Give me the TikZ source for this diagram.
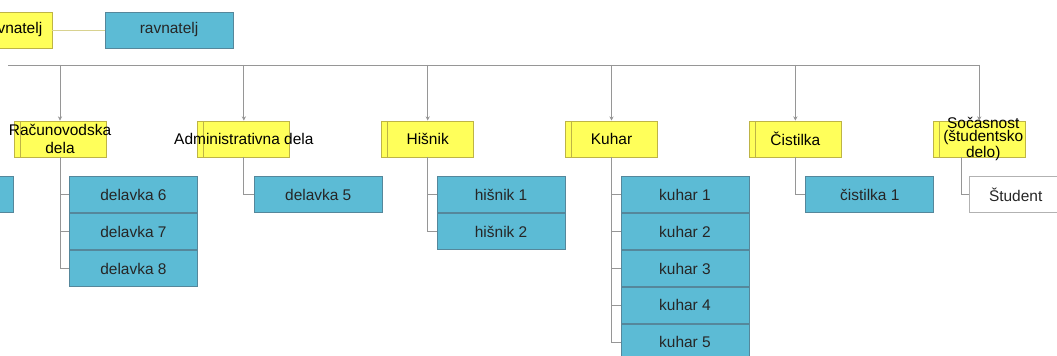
\documentclass[tikz,border=0pt]{standalone}
\usepackage{fontspec}
\setmainfont{Liberation Sans}
\usetikzlibrary{arrows.meta, positioning}

\definecolor{headyellow}{RGB}{255,255,90}
\definecolor{headborder}{RGB}{190,180,70}
\definecolor{staffblue}{RGB}{92,187,213}
\definecolor{staffborder}{RGB}{85,135,155}
\definecolor{linkgray}{RGB}{150,150,150}

\begin{document}
\begin{tikzpicture}[
        font=\fontsize{11}{13}\selectfont,
        >={Stealth[length=3pt,width=3pt]},
        line width=0.6pt,
        head/.style={
            draw=headborder,
            fill=headyellow,
            minimum width=2.3cm,
            minimum height=0.9cm,
            inner sep=0pt,
            align=center,
            path picture={\draw[headborder]
                ([xshift=0.15cm]path picture bounding box.south west) --
                ([xshift=0.15cm]path picture bounding box.north west);}
        },
        staff/.style={
            draw=staffborder,
            fill=staffblue,
            minimum width=3.2cm,
            minimum height=0.9cm,
            inner sep=0pt,
            text=black!85
        },
        student/.style={
            staff,
            fill=white,
            draw=black!30,
            minimum width=2.3cm
        },
        link/.style={draw=linkgray, line width=0.6pt}
    ]

        \useasboundingbox (0,0) rectangle (26.425,-8.9);
        \clip (0,0) rectangle (26.425,-8.9);

        % top row
        \node[head, minimum width=1.95cm] (deputy) at (0.325,-0.75) {ravnatelj};
        \node[staff] (director) at (4.225,-0.75) {ravnatelj};
        \draw[draw=headborder!60, line width=0.5pt] (deputy.east) -- (director.west);

        % heads of units
        \node[head] (racun) at (1.5,-3.475) {\makebox[0pt]{Računovodska}\\dela};
        \node[head, right=2.275cm of racun] (admin) {\makebox[0pt]{Administrativna dela}};
        \node[head, right=2.275cm of admin] (hisnik) {Hišnik};
        \node[head, right=2.275cm of hisnik] (kuhar) {Kuhar};
        \node[head, right=2.275cm of kuhar] (cist) {Čistilka};
        \node[head, right=2.275cm of cist] (socas) {};
        \node[align=center, font=\fontsize{11}{9.5}\selectfont, inner sep=0pt] (socastext) at ([xshift=0.1cm]socas.center) {Sočasnost\\(študentsko\\delo)};

        \coordinate (bar) at (0.2,-1.625);
        \draw[link] (bar) -- (socas |- bar);
        \draw[link, ->] (racun |- bar) -- (racun.north);
        \draw[link, ->] (admin |- bar) -- (admin.north);
        \draw[link, ->] (hisnik |- bar) -- (hisnik.north);
        \draw[link, ->] (kuhar |- bar) -- (kuhar.north);
        \draw[link, ->] (cist |- bar) -- (cist.north);
        \draw[link, ->] (socas |- bar) -- (socas.north);

        % staff
        \node[staff, anchor=north east] (cutbox) at (0.35,-4.4) {};

        \node[staff, anchor=north west] (del6) at ([xshift=0.225cm, yshift=-0.475cm]racun.south) {delavka 6};
        \node[staff, below=0cm of del6] (del7) {delavka 7};
        \node[staff, below=0cm of del7] (del8) {delavka 8};

        \node[staff, anchor=north west] (del5) at ([xshift=0.25cm, yshift=-0.475cm]admin.south) {delavka 5};

        \node[staff, anchor=north west] (his1) at ([xshift=0.225cm, yshift=-0.475cm]hisnik.south) {hišnik 1};
        \node[staff, below=0cm of his1] (his2) {hišnik 2};

        \node[staff, anchor=north west] (kuh1) at ([xshift=0.225cm, yshift=-0.475cm]kuhar.south) {kuhar 1};
        \node[staff, below=0cm of kuh1] (kuh2) {kuhar 2};
        \node[staff, below=0cm of kuh2] (kuh3) {kuhar 3};
        \node[staff, below=0cm of kuh3] (kuh4) {kuhar 4};
        \node[staff, below=0cm of kuh4] (kuh5) {kuhar 5};

        \node[staff, anchor=north west] (cist1) at ([xshift=0.25cm, yshift=-0.475cm]cist.south) {čistilka 1};

        \node[student, anchor=north west] (stud) at ([xshift=-0.25cm, yshift=-0.475cm]socas.south) {Študent};

        \draw[link] (racun.south) |- (del6.west);
        \draw[link] (racun.south) |- (del7.west);
        \draw[link] (racun.south) |- (del8.west);
        \draw[link] (admin.south) |- (del5.west);
        \draw[link] (hisnik.south) |- (his1.west);
        \draw[link] (hisnik.south) |- (his2.west);
        \draw[link] (kuhar.south) |- (kuh1.west);
        \draw[link] (kuhar.south) |- (kuh2.west);
        \draw[link] (kuhar.south) |- (kuh3.west);
        \draw[link] (kuhar.south) |- (kuh4.west);
        \draw[link] (kuhar.south) |- (kuh5.west);
        \draw[link] (cist.south) |- (cist1.west);
        \draw[link] ([xshift=-0.45cm]socas.south) |- (stud.west);

    \end{tikzpicture}
\end{document}
